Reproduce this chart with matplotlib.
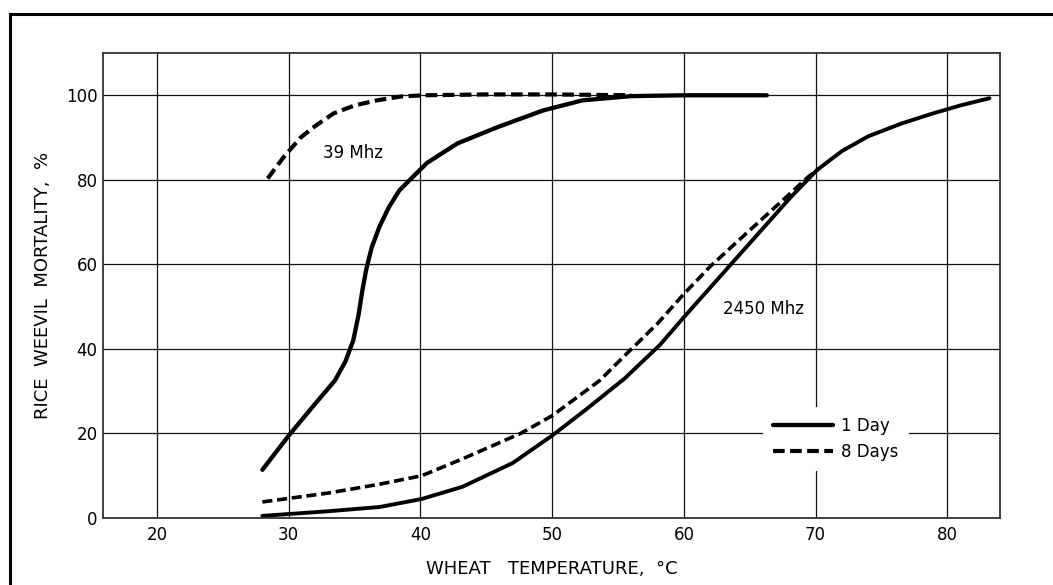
import matplotlib
matplotlib.use("Agg")
import matplotlib.pyplot as plt
from matplotlib.lines import Line2D

# ---------------------------------------------------------------- data
# 39 MHz
t39_1day = [28, 30, 32, 33.5, 34.3, 34.9, 35.3, 35.6, 35.9, 36.3, 36.9, 37.6, 38.4, 39.2,
            40.5, 42.8, 45.8, 49.3, 52.3, 56, 60, 66.3]
m39_1day = [11.4, 19.5, 27, 32.5, 37, 42, 48, 54, 59, 64, 69, 73.5, 77.5, 80,
            84, 88.6, 92.4, 96.4, 98.8, 99.8, 100, 100]
t39_8day = [28.4, 29.6, 30.9, 32, 33.4, 35, 36.7, 38.5, 40.2, 45, 50, 56]
m39_8day = [80.3, 85.3, 90, 92.7, 95.7, 97.6, 98.8, 99.7, 100, 100.2, 100.2, 100]

# 2450 MHz
t2450_1day = [28, 33, 36.9, 40.1, 43.2, 47, 50, 52.5, 55.5, 58.2, 60, 62, 64,
              66, 68, 70.1, 72, 74, 76.5, 78.9, 81, 83.2]
m2450_1day = [0.5, 1.6, 2.6, 4.5, 7.4, 13, 19.5, 25.5, 33, 41, 47.5, 54.5, 61.5,
              68.5, 75.5, 82.3, 86.8, 90.3, 93.3, 95.7, 97.6, 99.3]
t2450_8day = [28, 33, 36.9, 40.1, 43.2, 47.6, 50, 53.6, 55.7, 58, 60, 62,
              64.8, 67.8, 69.4, 70.2]
m2450_8day = [3.8, 5.9, 8, 10, 14, 20, 24.2, 32.5, 39, 46, 53, 59.5,
              67.5, 76, 80.6, 82.5]

xticks = [20, 30, 40, 50, 60, 70, 80]
yticks = [0, 20, 40, 60, 80, 100]

# ---------------------------------------------------------------- figure
plt.rcParams["font.family"] = "DejaVu Sans"
fig = plt.figure(figsize=(10.53, 5.85), dpi=100)
ax = fig.add_axes([103 / 1053, 1 - 518 / 585, 897 / 1053, 465 / 585])

dash = (2.8, 1.3)
ax.plot(t39_1day, m39_1day, color="black", lw=3.1, solid_capstyle="round",
        solid_joinstyle="round", label="1 Day")
ax.plot(t39_8day, m39_8day, color="black", lw=3.0, dashes=dash, label="8 Days")
ax.plot(t2450_1day, m2450_1day, color="black", lw=2.8, solid_capstyle="round",
        solid_joinstyle="round")
ax.plot(t2450_8day, m2450_8day, color="black", lw=2.6, dashes=dash)

ax.set_xlim(15.9, 84.0)
ax.set_ylim(0, 110)
ax.set_xticks(xticks)
ax.set_yticks(yticks)
ax.tick_params(length=0, labelsize=12)
ax.tick_params(axis="x", pad=6)
ax.tick_params(axis="y", pad=4)
ax.grid(True, color="#111111", lw=0.9)
ax.set_axisbelow(True)
for s in ax.spines.values():
    s.set_linewidth(1.3)
    s.set_color("#333333")

ax.set_xlabel("WHEAT   TEMPERATURE,  °C", fontsize=13, labelpad=11)
ax.set_ylabel("RICE  WEEVIL  MORTALITY,  %", fontsize=13, labelpad=10)

ax.text(32.6, 86.3, "39 Mhz", fontsize=12, va="center", ha="left")
ax.text(63.0, 49.5, "2450 Mhz", fontsize=12, va="center", ha="left",
        bbox=dict(facecolor="white", edgecolor="none", pad=1.5))

leg = ax.legend(loc="center", bbox_to_anchor=(0.817, 0.17), fontsize=12,
                handlelength=3.6, handletextpad=0.5, labelspacing=0.45,
                frameon=True, fancybox=False, borderpad=0.6)
leg.get_frame().set_facecolor("white")
leg.get_frame().set_edgecolor("none")
leg.get_frame().set_alpha(1)

# page frame (top and left rule of the scanned page)
fig.add_artist(Line2D([10 / 1053, 10 / 1053], [0, 1 - 14 / 585], color="black", lw=2.2,
                      transform=fig.transFigure))
fig.add_artist(Line2D([10 / 1053, 1], [1 - 14 / 585, 1 - 14 / 585], color="black", lw=2.2,
                      transform=fig.transFigure))

fig.savefig("out.png", dpi=100)
